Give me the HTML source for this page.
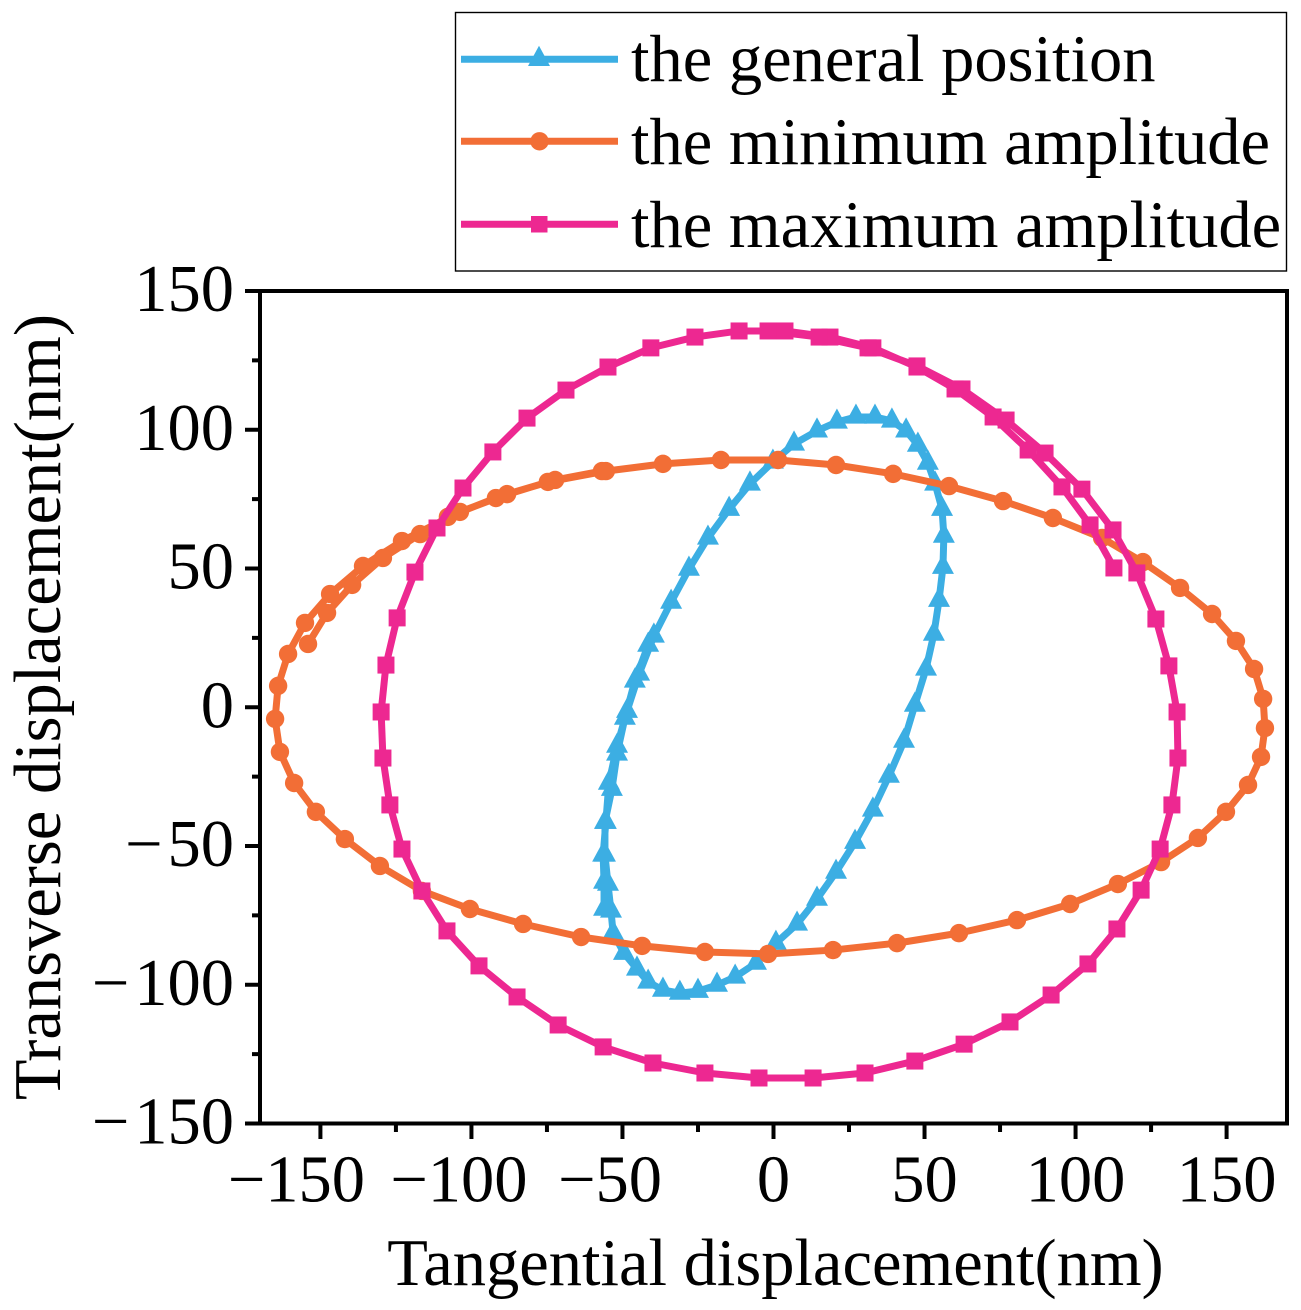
<!DOCTYPE html>
<html lang="en">
<head>
<meta charset="utf-8">
<title>Tangential vs transverse displacement</title>
<style>
html,body{margin:0;padding:0;background:#fff;}
svg{display:block;}
text{font-family:"Liberation Serif",serif;fill:#000;font-size:66.5px;}
</style>
</head>
<body>
<svg id="chart" xmlns="http://www.w3.org/2000/svg" width="1301" height="1310" viewBox="0 0 1301 1310">
  <rect x="0" y="0" width="1301" height="1310" fill="#fff"/>
  <g id="series-layer"></g>
  <g id="axis-layer"></g>
  <text x="775.5" y="1285" text-anchor="middle">Tangential displacement(nm)</text>
  <text transform="translate(60 707) rotate(-90)" text-anchor="middle">Transverse displacement(nm)</text>
  <g>
    <rect x="455.5" y="12.5" width="831" height="258.5" fill="#fff" stroke="#000" stroke-width="1.4"/>
    <g>
      <line x1="461" x2="618" y1="59.3" y2="59.3" stroke="#3CAEE3" stroke-width="7"/>
      <polygon points="539,45.7 550,66 528,66" fill="#3CAEE3"/>
      <text x="631" y="81">the general position</text>
    </g>
    <g>
      <line x1="461" x2="618" y1="141.3" y2="141.3" stroke="#F26E36" stroke-width="7"/>
      <circle cx="539.5" cy="141.3" r="9.2" fill="#F26E36"/>
      <text x="631" y="164">the minimum amplitude</text>
    </g>
    <g>
      <line x1="461" x2="618" y1="224.3" y2="224.3" stroke="#ED2891" stroke-width="7"/>
      <rect x="531" y="216" width="16.5" height="16.5" fill="#ED2891"/>
      <text x="631" y="247">the maximum amplitude</text>
    </g>
  </g>
</svg>
<script>
const xTickValues = [-150,-100,-50,0,50,100,150];
const yTickValues = [-150,-100,-50,0,50,100,150];
const xMinorValues = [-125,-75,-25,25,75,125];
const yMinorValues = [-125,-75,-25,25,75,125];
const xTickLabels = ['\u2212150','\u2212100','\u221250','0','50','100','150'];
const yTickLabels = ['\u2212150','\u2212100','\u221250','0','50','100','150'];

const generalX = [-56.1,-56.1,-56.4,-55.5,-54.5,-51.8,-48.5,-44.5,-39.6,-33.9,-28.0,-21.7,-14.7,-7.8,-0.2,6.8,14.4,21.0,27.3,33.6,39.2,43.9,47.8,51.1,53.5,55.8,56.4,56.1,54.8,53.1,50.5,46.8,43.2,38.2,32.9,27.0,20.7,14.4,7.8,0.8,-5.8,-12.7,-18.7,-25.0,-31.0,-36.6,-41.5,-45.2,-49.5,-53.1,-53.8,-54.8,-55.8,-55.8,-53.5,-51.8,-49.2,-45.9,-41.5];
const generalY = [-72.7,-63.0,-53.2,-41.4,-27.3,-14.0,-1.4,12.0,25.7,37.9,49.8,61.0,71.4,80.5,88.4,94.9,99.6,102.8,104.6,104.6,103.2,99.6,94.5,88.0,80.5,71.4,61.7,50.5,38.6,26.4,13.8,0.8,-12.2,-24.8,-37.0,-48.6,-59.4,-69.1,-78.1,-85.0,-92.2,-97.2,-100.1,-102.3,-103.0,-101.9,-99.0,-94.3,-88.6,-81.4,-73.4,-63.7,-53.2,-41.4,-29.5,-16.8,-3.9,9.5,22.4];

const minimumX = [-154.1,-147.8,-139.5,-129.3,-117.0,-107.8,-91.9,-74.7,-55.5,-36.6,-17.4,1.5,20.7,39.6,58.1,76.0,92.5,108.8,122.3,134.6,145.2,153.1,159.1,162.1,162.7,161.4,157.1,149.8,140.5,128.3,114.0,98.2,80.6,61.4,40.9,19.7,-1.8,-22.7,-43.5,-63.7,-82.9,-100.5,-116.4,-130.3,-141.9,-151.5,-158.7,-163.4,-165.0,-164.0,-160.7,-155.1,-146.8,-135.9,-123.0,-103.8,-88.2,-72.3,-56.8];
const minimumY = [22.8,34.0,44.1,53.8,62.4,68.6,75.4,81.2,85.1,87.7,89.1,89.1,87.3,84.1,79.7,74.3,68.2,61.0,52.3,43.0,33.6,23.9,13.8,3.0,-7.5,-17.9,-28.0,-37.7,-47.1,-55.8,-63.7,-70.9,-76.7,-81.4,-85.0,-87.5,-88.9,-88.2,-86.0,-82.8,-78.1,-72.7,-66.2,-57.2,-47.5,-37.7,-27.3,-16.1,-4.2,7.7,19.2,30.4,40.8,50.9,59.9,70.4,76.8,81.9,85.1];

const maximumX = [112.7,104.8,95.5,84.3,72.7,60.1,47.5,32.9,18.7,3.8,-11.4,-26.0,-40.6,-54.8,-68.7,-81.6,-92.9,-102.8,-111.4,-118.7,-124.6,-128.3,-129.9,-129.3,-127.0,-123.0,-116.4,-108.1,-97.5,-84.9,-71.3,-56.4,-39.9,-22.7,-4.8,13.1,30.3,46.8,63.1,78.3,91.9,104.1,113.7,121.7,128.0,131.9,133.9,133.6,130.9,126.6,120.3,112.4,102.1,89.9,77.0,62.4,47.5,31.3,15.1,-1.8];
const maximumY = [50.2,65.7,79.4,92.7,104.6,114.7,122.6,129.5,133.4,135.6,135.6,133.4,129.5,122.6,114.3,104.2,92.0,79.0,64.6,48.7,32.2,15.2,-1.7,-18.3,-35.2,-51.1,-66.2,-80.6,-93.2,-104.4,-114.5,-122.4,-128.2,-131.8,-133.6,-133.6,-131.8,-127.5,-121.4,-113.4,-103.7,-92.5,-79.9,-65.9,-51.1,-35.2,-18.3,-1.7,14.9,31.8,48.4,63.9,78.6,91.6,103.5,114.7,123.0,129.5,133.4,135.6];

const NS = 'http://www.w3.org/2000/svg';
const plotLeft = 260, plotRight = 1287, plotTop = 291, plotBottom = 1123.5;
const xMin = -170, xMax = 170, yMin = -150, yMax = 150;
function xScale(v){ return plotLeft + (v - xMin) * (plotRight - plotLeft) / (xMax - xMin); }
function yScale(v){ return plotBottom - (v - yMin) * (plotBottom - plotTop) / (yMax - yMin); }
function make(tag, attrs, parent){
  const el = document.createElementNS(NS, tag);
  for (const k in attrs) el.setAttribute(k, attrs[k]);
  parent.appendChild(el);
  return el;
}

const seriesLayer = document.getElementById('series-layer');
const axisLayer = document.getElementById('axis-layer');

function drawSeries(name, xs, ys, color, kind){
  const group = make('g', {}, seriesLayer);
  
  
  const pts = xs.map((x, i) => xScale(x).toFixed(2) + ',' + yScale(ys[i]).toFixed(2)).join(' ');
  const line = make('polyline', {points: pts, fill: 'none', stroke: color, 'stroke-width': 7, 'stroke-linejoin': 'round'}, group);
  
  
  xs.forEach((x, i) => {
    const cx = xScale(x), cy = yScale(ys[i]);
    let m;
    if (kind === 'triangle') {
      m = make('polygon', {points: cx + ',' + (cy - 13.5) + ' ' + (cx + 11) + ',' + (cy + 6.7) + ' ' + (cx - 11) + ',' + (cy + 6.7), fill: color}, group);
    } else if (kind === 'circle') {
      m = make('circle', {cx: cx, cy: cy, r: 9.2, fill: color}, group);
    } else {
      m = make('rect', {x: cx - 8.5, y: cy - 8.5, width: 17, height: 17, fill: color}, group);
    }
    
    
  });
}
drawSeries('general-position', generalX, generalY, '#3CAEE3', 'triangle');
drawSeries('minimum-amplitude', minimumX, minimumY, '#F26E36', 'circle');
drawSeries('maximum-amplitude', maximumX, maximumY, '#ED2891', 'square');

const frame = make('rect', {x: plotLeft, y: plotTop, width: plotRight - plotLeft, height: plotBottom - plotTop, fill: 'none', stroke: '#000', 'stroke-width': 4}, axisLayer);



xTickValues.forEach((v, i) => {
  const x = xScale(v);
  const t = make('line', {x1: x, x2: x, y1: plotBottom, y2: 1139, stroke: '#000', 'stroke-width': 4}, axisLayer);
  
  
  const shift = v < 0 ? (v === -150 ? -24 : -12.5) : 0;
  const l = make('text', {x: x + shift, y: 1201.5, 'text-anchor': 'middle'}, axisLayer);
  l.textContent = xTickLabels[i];
  
  
});
xMinorValues.forEach(v => {
  const x = xScale(v);
  const t = make('line', {x1: x, x2: x, y1: plotBottom, y2: 1132, stroke: '#000', 'stroke-width': 4}, axisLayer);
  
  
});
yTickValues.forEach((v, i) => {
  const y = yScale(v);
  const t = make('line', {x1: plotLeft, x2: 245, y1: y, y2: y, stroke: '#000', 'stroke-width': 4}, axisLayer);
  
  
  const l = make('text', {x: 234, y: y + 20, 'text-anchor': 'end'}, axisLayer);
  
  
  const label = yTickLabels[i];
  if (v < 0) {
    l.appendChild(document.createTextNode(label.charAt(0)));
    const digits = make('tspan', {dx: 5}, l);
    digits.textContent = label.slice(1);
  } else {
    l.textContent = label;
  }
});
yMinorValues.forEach(v => {
  const y = yScale(v);
  const t = make('line', {x1: plotLeft, x2: 252, y1: y, y2: y, stroke: '#000', 'stroke-width': 4}, axisLayer);
  
  
});
</script>
</body>
</html>
